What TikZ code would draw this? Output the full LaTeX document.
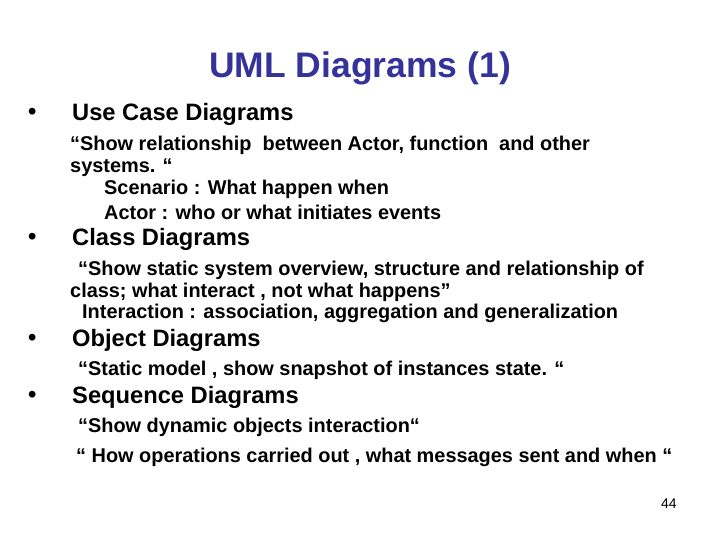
\documentclass[tikz,border=0pt]{standalone}
\usepackage{fontspec}
\setmainfont{Liberation Sans}
\definecolor{titleblue}{RGB}{51,51,153}
\begin{document}
\begin{tikzpicture}[x=1pt,y=-1pt,
  ttl/.style={font=\fontsize{35.5}{40}\selectfont\bfseries,text=titleblue},
  bul/.style={anchor=west,inner sep=0,font=\fontsize{23.7}{26}\selectfont\bfseries},
  sub/.style={anchor=west,inner sep=0,font=\fontsize{19.9}{22}\selectfont\bfseries}]
\useasboundingbox (0,0) rectangle (720,540);
\node[ttl] (t) at (360,68) {UML Diagrams (1)};
\foreach \y/\n in {114/a,239/b,340/c,397/d}{\node[bul] (d\n) at (28,\y) {•};}
\node[bul] (b1) at (72,114) {Use Case Diagrams};
\node[sub] (s1) at (70,145) {“Show relationship\ \ between Actor, function\ \ and other};
\node[sub] (s2) at (70,168) {systems. “};
\node[sub] (s3) at (104,189) {Scenario : What happen when};
\node[sub] (s4) at (104,212) {Actor : who or what initiates events};
\node[bul] (b2) at (72,239) {Class Diagrams};
\node[sub] (s5) at (78,270) {“Show static system overview, structure and relationship of};
\node[sub] (s6) at (70,292) {class; what interact , not what happens”};
\node[sub] (s7) at (82,313) {Interaction : association, aggregation and generalization};
\node[bul] (b3) at (72,340) {Object Diagrams};
\node[sub] (s8) at (78,370) {“Static model , show snapshot of instances state. “};
\node[bul] (b4) at (72,397) {Sequence Diagrams};
\node[sub] (s9) at (78,427) {“Show dynamic objects interaction“};
\node[sub] (s10) at (76,457) {“ How operations carried out , what messages sent and when “};
\node[anchor=west,inner sep=0,font=\fontsize{14}{16}\selectfont] (p) at (661,504) {44};
\end{tikzpicture}
\end{document}
